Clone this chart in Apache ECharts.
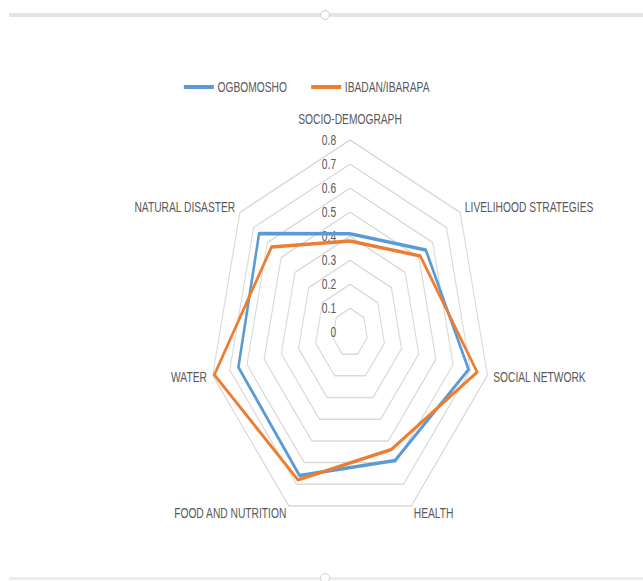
<!DOCTYPE html>
<html>
<head>
<meta charset="utf-8">
<script src="https://cdn.jsdelivr.net/npm/echarts@6/dist/echarts.min.js"></script>
<style>
  html, body { margin: 0; padding: 0; background: #ffffff; }
  body { width: 643px; height: 581px; position: relative; overflow: hidden; }
  #chart { position: absolute; left: 0; top: 0; width: 878px; height: 581px; transform: scaleX(0.7323); transform-origin: 0 0; }
  .bar { position: absolute; left: 9px; width: 634px; background: #e4e4e4; }
  .handle { position: absolute; width: 8px; height: 8px; border-radius: 50%; background: #fff; border: 1px solid #d0d0d0; }
</style>
</head>
<body>
<div class="bar" style="top:13px;height:4px;"></div>
<div class="bar" style="top:577px;height:3px;background:#ececec;"></div>
<div class="handle" style="left:320px;top:10px;"></div>
<div class="handle" style="left:320px;top:573px;"></div>
<div id="chart"></div>
<script>
// Categories in clockwise order starting from the top (as in the reference)
var categories = ['SOCIO-DEMOGRAPH', 'LIVELIHOOD STRATEGIES', 'SOCIAL NETWORK', 'HEALTH', 'FOOD AND NUTRITION', 'WATER', 'NATURAL DISASTER'];
var seriesNames = ['OGBOMOSHO', 'IBADAN/IBARAPA'];
var ogbomosho = [0.41, 0.55, 0.69, 0.59, 0.66, 0.65, 0.66];
var ibadanIbarapa = [0.38, 0.51, 0.74, 0.54, 0.68, 0.79, 0.57];
var tickLabels = ['0', '0.1', '0.2', '0.3', '0.4', '0.5', '0.6', '0.7', '0.8'];
var axisMax = 0.8;
var colors = ['#5B9BD5', '#ED7D31'];

// ECharts places radar indicators counter-clockwise; reorder to get the clockwise layout
function toCCW(arr) { return [arr[0]].concat(arr.slice(1).reverse()); }

var FONT = '"Liberation Sans", Arial, sans-serif';
var FS = 14;
var indicators = toCCW(categories).map(function (name, i) {
  var ind = { name: name, min: 0, max: axisMax };
  if (i === 0) {
    ind.axisLabel = {
      show: true,
      color: '#595959',
      fontSize: FS,
      fontFamily: FONT,
      margin: 19,
      formatter: function (v, idx) { return tickLabels[idx]; }
    };
  }
  return ind;
});

var chart = echarts.init(document.getElementById('chart'), null, { renderer: 'svg' });
chart.setOption({
  animation: false,
  backgroundColor: 'transparent',
  color: colors,
  legend: {
    data: seriesNames,
    left: 246,
    top: 75,
    icon: 'rect',
    itemWidth: 41,
    itemHeight: 4,
    itemGap: 33,
    textStyle: { color: '#595959', fontSize: FS, fontFamily: FONT }
  },
  radar: {
    center: [478, 332.5],
    radius: 192.5,
    startAngle: 90,
    splitNumber: 8,
    shape: 'polygon',
    indicator: indicators,
    axisName: {
      color: '#595959', fontSize: FS, fontFamily: FONT,
      formatter: function (name) { return name === categories[0] ? '{t|' + name + '}' : name; },
      rich: { t: { color: '#595959', fontSize: FS, fontFamily: FONT, padding: [0, 0, 6, 0] } }
    },
    nameGap: 8,
    axisLine: { show: false },
    axisTick: { show: false },
    axisLabel: { show: false },
    splitArea: { show: false },
    splitLine: { lineStyle: { color: '#d9d9d9', width: 1.5 } }
  },
  series: [{
    type: 'radar',
    symbol: 'none',
    data: [
      { name: seriesNames[0], value: toCCW(ogbomosho), lineStyle: { color: colors[0], width: 3.5 }, itemStyle: { color: colors[0] } },
      { name: seriesNames[1], value: toCCW(ibadanIbarapa), lineStyle: { color: colors[1], width: 3.5 }, itemStyle: { color: colors[1] } }
    ]
  }]
});
</script>
</body>
</html>
